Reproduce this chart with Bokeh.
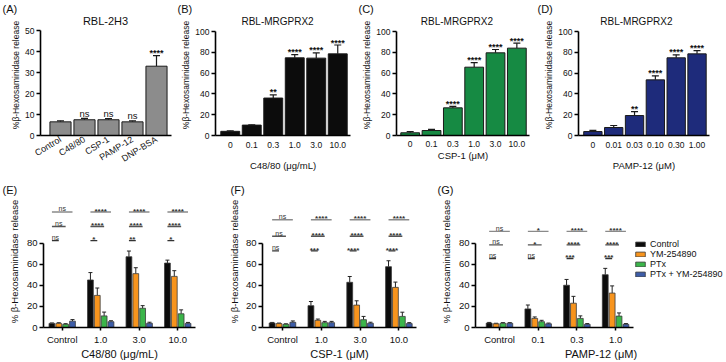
from bokeh.plotting import figure
from bokeh.models import (ColumnDataSource, Range1d, FixedTicker, Title, Legend,
                          LegendItem, Whisker, TeeHead)
from bokeh.layouts import row, column
from bokeh.embed import file_html
from bokeh.resources import INLINE
from bokeh.core.properties import value

FONT = "Liberation Sans"

# ---------------- data ----------------
a_cats = ["Control", "C48/80", "CSP-1", "PAMP-12", "DNP-BSA"]
a_vals = [6.5, 7.5, 7.5, 6.5, 33.0]
a_errs = [0.5, 0.7, 0.5, 0.5, 5.0]
a_sig = ["", "ns", "ns", "ns", "****"]

b_cats = ["0", "0.1", "0.3", "1.0", "3.0", "10.0"]
b_vals = [4.0, 10.0, 36.0, 74.7, 74.4, 78.5]
b_errs = [0.5, 0.3, 3.0, 3.0, 5.0, 8.5]
b_sig = ["", "", "**", "****", "****", "****"]

c_cats = ["0", "0.1", "0.3", "1.0", "3.0", "10.0"]
c_vals = [2.6, 4.8, 26.6, 65.7, 79.5, 84.0]
c_errs = [1.2, 1.0, 1.4, 4.3, 3.2, 4.8]
c_sig = ["", "", "****", "****", "****", "****"]

d_cats = ["0", "0.01", "0.03", "0.10", "0.30", "1.00"]
d_vals = [3.8, 7.7, 19.2, 53.5, 74.7, 78.5]
d_errs = [1.2, 1.9, 3.8, 3.9, 2.9, 3.2]
d_sig = ["", "", "**", "****", "****", "****"]

treatments = ["Control", "YM-254890", "PTx", "PTx + YM-254890"]

e_groups = ["Control", "1.0", "3.0", "10.0"]
e_vals = [[3.9, 45.0, 67.0, 61.0],
          [3.9, 30.4, 51.0, 48.4],
          [3.0, 11.0, 18.2, 13.0],
          [6.0, 5.5, 4.0, 3.9]]
e_errs = [[0.4, 7.0, 5.4, 2.8],
          [0.6, 7.0, 5.6, 5.4],
          [0.6, 3.6, 2.5, 3.7],
          [1.5, 0.9, 1.0, 0.9]]
e_sig = [["ns", "****", "****", "****"],   # Control vs PTx + YM-254890
         ["ns", "****", "****", "****"],   # Control vs PTx
         ["ns", "*", "**", "*"]]           # Control vs YM-254890

f_groups = ["Control", "1.0", "3.0", "10.0"]
f_vals = [[4.3, 20.7, 42.8, 57.6],
          [3.7, 6.8, 21.2, 38.0],
          [3.0, 4.6, 7.4, 10.5],
          [4.9, 4.6, 4.0, 3.7]]
f_errs = [[0.5, 3.9, 5.5, 5.6],
          [0.5, 1.2, 4.1, 5.0],
          [0.5, 1.2, 3.1, 4.0],
          [1.3, 1.2, 1.0, 0.9]]
f_sig = [["ns", "****", "****", "****"],
         ["ns", "****", "****", "****"],
         ["ns", "***", "****", "****"]]

g_groups = ["Control", "0.1", "0.3", "1.0"]
g_vals = [[4.2, 17.6, 40.0, 50.0],
          [3.5, 8.6, 23.0, 32.6],
          [4.0, 5.5, 8.6, 10.8],
          [4.0, 3.5, 3.0, 3.0]]
g_errs = [[0.6, 3.7, 5.5, 6.0],
          [0.5, 1.4, 6.5, 6.8],
          [0.6, 1.3, 2.4, 3.0],
          [0.6, 0.7, 0.7, 0.7]]
g_sig = [["ns", "*", "****", "****"],
         ["ns", "*", "****", "****"],
         ["ns", "ns", "***", "***"]]

TOP_YLABEL = "%\u03b2-Hexosaminidase release"
BOT_YLABEL = "% \u03b2-Hexosaminidase release"

# ---------------- styles ----------------
TOP_COLORS = {"A": "#8c8c8c", "B": "#0c0c0c", "C": "#168a43", "D": "#1e2b7b"}
TREAT_COLORS = ["#0c0c0c", "#f7941d", "#3bb54a", "#3d5da8"]
SIG_LINE_COLORS = ["#8a8a8a", "#555555", "#333333"]
BAR_STEP = 0.178
BAR_W = 0.15


def make_fig(width, height, borders, xr, yr):
    left, right, top, bottom = borders
    p = figure(width=width, height=height, output_backend="svg", toolbar_location=None,
               x_range=Range1d(*xr), y_range=Range1d(*yr),
               min_border_left=left, min_border_right=right,
               min_border_top=top, min_border_bottom=bottom)
    p.xgrid.visible = False
    p.ygrid.visible = False
    p.outline_line_color = None
    p.background_fill_color = "white"
    p.border_fill_color = "white"
    return p


def style_y(p, bounds, ticks, tick_size, label, label_size, label_standoff):
    ya = p.yaxis[0]
    ya.bounds = bounds
    ya.ticker = FixedTicker(ticks=ticks)
    ya.minor_tick_line_color = None
    ya.major_tick_in = 0
    ya.major_tick_out = 4
    ya.major_tick_line_width = 1.5
    ya.axis_line_width = 1.6
    ya.major_label_text_font = FONT
    ya.major_label_text_font_size = tick_size
    ya.major_label_text_color = "#111111"
    ya.major_label_standoff = 2
    ya.axis_label = label
    ya.axis_label_text_font = FONT
    ya.axis_label_text_font_style = "normal"
    ya.axis_label_text_font_size = label_size
    ya.axis_label_text_color = "#111111"
    ya.axis_label_standoff = label_standoff


def style_x(p, bounds, ticks, labels, tick_size, tick_out, standoff, label, label_size,
            label_standoff, orientation=None, line_height=None):
    xa = p.xaxis[0]
    xa.bounds = bounds
    xa.ticker = FixedTicker(ticks=ticks)
    xa.major_label_overrides = {t: s for t, s in zip(ticks, labels)}
    xa.minor_tick_line_color = None
    xa.major_tick_in = 0
    xa.major_tick_out = tick_out
    xa.major_tick_line_width = 1.5
    if tick_out == 0:
        xa.major_tick_line_color = None
    xa.axis_line_width = 1.6
    xa.major_label_text_font = FONT
    xa.major_label_text_font_size = tick_size
    xa.major_label_text_color = "#111111"
    xa.major_label_standoff = standoff
    if line_height is not None:
        xa.major_label_text_line_height = line_height
        xa.axis_label_text_line_height = line_height
    if orientation is not None:
        xa.major_label_orientation = orientation
    if label:
        xa.axis_label = label
        xa.axis_label_text_font = FONT
        xa.axis_label_text_font_style = "normal"
        xa.axis_label_text_font_size = label_size
        xa.axis_label_text_color = "#111111"
        xa.axis_label_standoff = label_standoff


def panel_label(p, text, offset):
    p.add_layout(Title(text=text, align="left", offset=offset, standoff=0,
                       text_font=FONT, text_font_size="11px", text_font_style="normal",
                       text_color="#111111"), "above")


def top_panel(cats, vals, errs, sig, color, width, borders, xr, yr, ybounds, yticks,
              title, title_xy, title_size, xlabel, plabel, plabel_off,
              orientation=None, tick_standoff=6, xlabel_standoff=9, bar_w=0.88):
    p = make_fig(width, 175, borders, xr, yr)
    x = list(range(len(cats)))
    upper = [v + e for v, e in zip(vals, errs)]
    src = ColumnDataSource(dict(x=x, top=vals, upper=upper, lower=vals))
    p.vbar(x="x", top="top", width=bar_w, source=src, fill_color=color,
           line_color="#1a1a1a", line_width=1)
    p.add_layout(Whisker(source=src, base="x", upper="upper", lower="lower",
                         dimension="height", line_color="#1a1a1a", line_width=1.2,
                         upper_head=TeeHead(size=7, line_color="#1a1a1a", line_width=1.2),
                         lower_head=None))
    offs = [-5 if s == "ns" else -2.5 for s in sig]
    sizes = ["9.5px" if s == "ns" else "9px" for s in sig]
    styles = ["normal" if s == "ns" else "bold" for s in sig]
    ssrc = ColumnDataSource(dict(x=x, y=upper, t=sig, off=offs, fs=sizes, st=styles))
    p.text(x="x", y="y", text="t", source=ssrc, y_offset="off", text_align="center",
           text_baseline="alphabetic", text_font=value(FONT), text_font_size="fs",
           text_font_style="st", text_color="#111111")
    p.text(x=[title_xy[0]], y=[title_xy[1]], text=[title], text_align="center",
           text_baseline="middle", text_font=value(FONT), text_font_size=title_size,
           text_color="#111111")
    style_y(p, ybounds, yticks, "8.5px", TOP_YLABEL, "8.5px", 1)
    style_x(p, (xr[0], xr[1]), x, cats, "8.5px" if orientation is None else "9px", 0,
            tick_standoff, xlabel, "9.5px", xlabel_standoff, orientation)
    panel_label(p, plabel, plabel_off)
    return p


def bottom_panel(groups, vals, errs, sig, width, borders, xr, xbounds, sig_levels, xlabel,
                 plabel, plabel_off, ylabel_standoff):
    p = make_fig(width, 187, borders, xr, (0, 125))
    gx = list(range(len(groups)))
    offsets = [(k - 1.5) * BAR_STEP for k in range(4)]
    renderers = []
    for k in range(4):
        xs = [g + offsets[k] for g in gx]
        upper = [v + e for v, e in zip(vals[k], errs[k])]
        src = ColumnDataSource(dict(x=xs, top=vals[k], upper=upper, lower=vals[k]))
        r = p.vbar(x="x", top="top", width=BAR_W, source=src, fill_color=TREAT_COLORS[k],
                   line_color="#3a3a3a", line_width=0.8)
        renderers.append(r)
        p.add_layout(Whisker(source=src, base="x", upper="upper", lower="lower",
                             dimension="height", line_color="#222222", line_width=1,
                             upper_head=TeeHead(size=4, line_color="#222222", line_width=1),
                             lower_head=None))
    # significance brackets: rows compare Control with PTx+YM, PTx, YM
    ends = [3, 2, 1]
    for row_i in range(3):
        x0 = [g + offsets[0] for g in gx]
        x1 = [g + offsets[ends[row_i]] for g in gx]
        lvl = [sig_levels[row_i]] * len(gx)
        p.segment(x0=x0, y0=lvl, x1=x1, y1=lvl, line_color=SIG_LINE_COLORS[row_i],
                  line_width=1.4)
        xm = [(a + b) / 2 for a, b in zip(x0, x1)]
        labs = sig[row_i]
        offs = [-3 if s == "ns" else -0.8 for s in labs]
        sizes = ["7px" if s == "ns" else "8px" for s in labs]
        styles = ["normal" if s == "ns" else "bold" for s in labs]
        ssrc = ColumnDataSource(dict(x=xm, y=lvl, t=labs, off=offs, fs=sizes, st=styles))
        p.text(x="x", y="y", text="t", source=ssrc, y_offset="off", text_align="center",
               text_baseline="alphabetic", text_font=value(FONT), text_font_size="fs",
               text_font_style="st", text_color="#333333")
    style_y(p, (0, 80), [0, 20, 40, 60, 80], "9.5px", BOT_YLABEL, "9.5px", ylabel_standoff)
    style_x(p, xbounds, gx, groups, "9.5px", 3, 3, xlabel, "11px", 0, line_height=1.0)
    panel_label(p, plabel, plabel_off)
    return p, renderers


pA = top_panel(a_cats, a_vals, a_errs, a_sig, TOP_COLORS["A"], 176, (40, 5, 14, 40),
               (-0.833, 4.625), (0, 57.62), (0, 50), [0, 10, 20, 30, 40, 50],
               "RBL-2H3", (1.875, 54.3), "11px", None, "(A)", -38,
               orientation=0.55, tick_standoff=3)
pB = top_panel(b_cats, b_vals, b_errs, b_sig, TOP_COLORS["B"], 182, (39, 8, 14, 40),
               (-0.686, 5.593), (0, 116.35), (0, 100), [0, 20, 40, 60, 80, 100],
               "RBL-MRGPRX2", (2.2, 109.6), "10px", "C48/80 (\u03bcg/mL)", "(B)", -38,
               xlabel_standoff=9)
pC = top_panel(c_cats, c_vals, c_errs, c_sig, TOP_COLORS["C"], 178, (38, 7, 14, 40),
               (-0.642, 5.593), (0, 116.35), (0, 100), [0, 20, 40, 60, 80, 100],
               "RBL-MRGPRX2", (2.19, 109.6), "10px", "CSP-1 (\u03bcM)", "(C)", -38,
               tick_standoff=5, xlabel_standoff=0)
pD = top_panel(d_cats, d_vals, d_errs, d_sig, TOP_COLORS["D"], 190, (42, 17, 14, 40),
               (-0.69, 5.599), (0, 116.35), (0, 100), [0, 20, 40, 60, 80, 100],
               "RBL-MRGPRX2", (2.09, 109.6), "10px", "PAMP-12 (\u03bcM)", "(D)", -41,
               xlabel_standoff=9)

pE, _ = bottom_panel(e_groups, e_vals, e_errs, e_sig, 222, (43, 27, 20, 31),
                     (-0.486, 3.462), (-0.486, 3.462), [109.4, 95.6, 82.3],
                     "C48/80 (\u03bcg/mL)", "(E)", -41, 4)
pF, _ = bottom_panel(f_groups, f_vals, f_errs, f_sig, 206, (40, 12, 20, 31),
                     (-0.515, 3.454), (-0.515, 3.454), [102.0, 86.4, 72.6],
                     "CSP-1 (\u03bcM)", "(F)", -32, 3)
pG, g_rs = bottom_panel(g_groups, g_vals, g_errs, g_sig, 298, (47, 0, 20, 31),
                        (-0.62, 5.866), (-0.62, 3.463), [91.0, 78.2, 65.3],
                        "PAMP-12 (\u03bcM)", "(G)", -38, 4)

legend = Legend(items=[LegendItem(label=t, renderers=[r]) for t, r in zip(treatments, g_rs)],
                location=(159, 48), orientation="vertical",
                glyph_width=12, glyph_height=6, label_height=8, label_standoff=4,
                spacing=-2, padding=0, margin=0, border_line_color=None,
                background_fill_alpha=0, label_text_font=FONT, label_text_line_height=1.0,
                label_text_font_size="9px", label_text_color="#111111")
pG.add_layout(legend)

layout = column(row(pA, pB, pC, pD, spacing=0), row(pE, pF, pG, spacing=0), spacing=0)

with open("out.html", "w") as f:
    f.write(file_html(layout, INLINE))
